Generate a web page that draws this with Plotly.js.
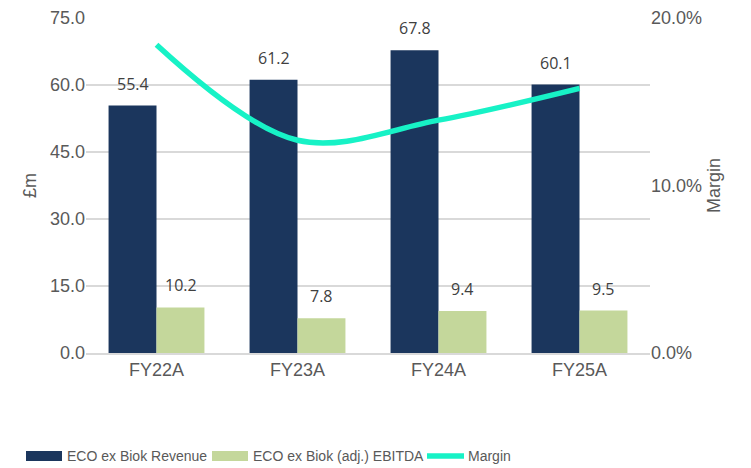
<!DOCTYPE html>
<html>
<head>
<meta charset="utf-8">
<script src="https://cdn.plot.ly/plotly-3.0.1.min.js"></script>
<style>
  html, body { margin: 0; padding: 0; background: #fff; }
  #myPlot { width: 751px; height: 468px; }
</style>
</head>
<body>
<div id="myPlot"></div>
<script>
/**
 * Data
 */
const years = ["FY22A", "FY23A", "FY24A", "FY25A"];
const revenue = [55.4, 61.2, 67.8, 60.1];
const ebitda = [10.2, 7.8, 9.4, 9.5];
const margin = [0.184, 0.127, 0.139, 0.158];
const seriesNames = ["ECO ex Biok Revenue", "ECO ex Biok (adj.) EBITDA", "Margin"];

const colors = {
  navy: "#1B365D",
  green: "#C4D79B",
  aqua: "#17F2C6",
  text: "#595959",
  label: "#404040",
  grid: "#D9D9D9"
};

const axisFont = { family: "Liberation Sans, Arial, sans-serif", size: 18, color: colors.text };
const labelFont = { family: "Open Sans, sans-serif", size: 16, color: colors.label };
const legendFont = { family: "Liberation Sans, Arial, sans-serif", size: 14, color: colors.text };

const data = [
  {
    type: "bar",
    name: seriesNames[0],
    x: years,
    y: revenue,
    marker: { color: colors.navy },
    hoverinfo: "skip"
  },
  {
    type: "bar",
    name: seriesNames[1],
    x: years,
    y: ebitda,
    marker: { color: colors.green },
    hoverinfo: "skip"
  },
  {
    type: "scatter",
    mode: "lines",
    name: seriesNames[2],
    x: years,
    y: margin,
    yaxis: "y2",
    line: { color: colors.aqua, width: 5.5, shape: "spline", smoothing: 1 },
    hoverinfo: "skip"
  }
];

/**
 * Value labels above each bar
 */
const annotations = [];
years.forEach((yr, i) => {
  annotations.push({
    x: yr, y: revenue[i], xref: "x", yref: "y",
    text: revenue[i].toFixed(1), showarrow: false,
    xshift: -24, yshift: 22, font: labelFont
  });
  annotations.push({
    x: yr, y: ebitda[i], xref: "x", yref: "y",
    text: ebitda[i].toFixed(1), showarrow: false,
    xshift: 24, yshift: 22, font: labelFont
  });
});

/**
 * Legend drawn under the chart (wide swatches like the original)
 * plot area spans 86..650 px across, 18..353 px down
 */
const px = v => (v - 86) / 564;
const py = v => (353 - v) / 335;
const legendItems = [
  { swatch: [26, 62], textX: 65, kind: "rect", color: colors.navy },
  { swatch: [212, 248], textX: 251, kind: "rect", color: colors.green },
  { swatch: [427, 464], textX: 466, kind: "line", color: colors.aqua }
];
const shapes = [];
legendItems.forEach((item, i) => {
  if (item.kind === "rect") {
    shapes.push({
      type: "rect", xref: "paper", yref: "paper",
      x0: px(item.swatch[0]), x1: px(item.swatch[1]),
      y0: py(461), y1: py(451),
      fillcolor: item.color, line: { width: 0 }
    });
  } else {
    shapes.push({
      type: "line", xref: "paper", yref: "paper",
      x0: px(item.swatch[0]), x1: px(item.swatch[1]),
      y0: py(456), y1: py(456),
      line: { color: item.color, width: 5.5 }
    });
  }
  annotations.push({
    xref: "paper", yref: "paper",
    x: px(item.textX), y: py(456),
    xanchor: "left", yanchor: "middle",
    text: seriesNames[i], showarrow: false,
    font: legendFont
  });
});

const layout = {
  width: 751,
  height: 468,
  margin: { l: 86, r: 101, t: 18, b: 115 },
  paper_bgcolor: "#fff",
  plot_bgcolor: "#fff",
  barmode: "group",
  bargap: 0.32,
  bargroupgap: 0,
  showlegend: false,
  xaxis: {
    type: "category",
    tickfont: axisFont,
    showgrid: false,
    showline: true,
    linecolor: colors.grid,
    linewidth: 1.5,
    ticks: ""
  },
  yaxis: {
    range: [0, 75],
    dtick: 15,
    tickformat: ".1f",
    tickfont: axisFont,
    gridcolor: colors.grid,
    gridwidth: 1.5,
    zeroline: false,
    title: { text: "£m", font: axisFont, standoff: 8 }
  },
  yaxis2: {
    overlaying: "y",
    side: "right",
    range: [0, 0.2],
    dtick: 0.1,
    tickformat: ".1%",
    tickfont: axisFont,
    showgrid: false,
    zeroline: false,
    title: { text: "Margin", font: axisFont, standoff: 6 }
  },
  shapes: shapes,
  annotations: annotations
};

Plotly.newPlot("myPlot", data, layout, { staticPlot: true });
</script>
</body>
</html>
